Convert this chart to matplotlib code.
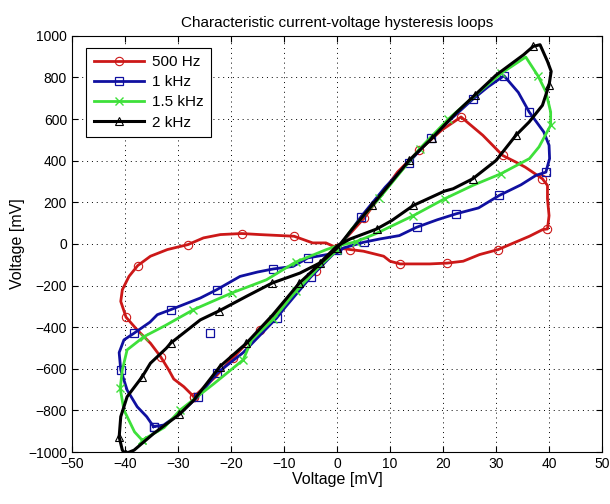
import matplotlib
matplotlib.use("Agg")
import matplotlib.pyplot as plt

# 500 Hz loop
red_x = [-27, -23, -19.6, -14.6, -8.5, -4, 0, 5.1, 11.4, 15.5, 19.7, 23.4, 27.5, 31.25, 33.75,
         35.5, 38.75, 39.7, 39.7, 40, 39.7, 38.8, 36.3, 32.6, 30.4, 26.9, 23.8, 20.8, 17.5, 11.9,
         10, 8.8, 5, 2.5, 0, -2.1, -4.6, -8.1, -14.6, -18, -22, -25.2, -28.1, -32, -35.2, -37.6,
         -39.25, -40.5, -40.8, -39.8, -37.7, -35.2, -33.3, -31.75, -30.8, -28.9, -27]
red_y = [-734, -640, -546, -413, -252, -130, -20, 124, 345, 450, 546, 610, 522, 425, 393,
         369, 313, 281, 217, 136, 72, 69, 37, -3, -27, -51, -83, -92, -96, -96,
         -83, -59, -35, -27, -19, 5, 5, 37, 45, 50, 45, 29, -3, -27, -59, -104,
         -156, -220, -276, -352, -413, -477, -541, -605, -649, -686, -734]

# 1 kHz loop
blue_x = [-34.6, -32.7, -29.6, -26.25, -22.7, -17.7, -11.4, -9.9, -5, 0, 4.5, 9.1, 13.5, 17.8,
          21.5, 25.6, 28.5, 31.5, 34.2, 36.25, 39, 40, 40.1, 39.4, 37.5, 34.7, 30.6, 26.7, 22.5,
          18.9, 15.0, 11.75, 8.1, 5, 1.25, 0, -5.5, -8.3, -12, -15, -18.3, -22.7, -25.8, -31.4,
          -33.9, -35.3, -38.3, -40.2, -41.1, -40.8, -39.6, -37.7, -35.9, -34.6]
blue_y = [-878, -870, -814, -734, -622, -522, -356, -308, -160, -30, 130, 273, 390, 511,
          600, 695, 755, 808, 728, 634, 538, 474, 410, 345, 329, 284, 233, 173, 145,
          116, 80, 40, 24, 8, -19, -43, -67, -108, -120, -135, -156, -220, -260, -316,
          -340, -376, -429, -461, -522, -605, -702, -782, -830, -878]
blue_outlier_x = [-24]
blue_outlier_y = [-426]

# 1.5 kHz loop
green_x = [-36.75, -32.6, -29.6, -23.3, -17.7, -16.1, -12, -7.8, -3, 0, 2.8, 8, 15.6, 21, 27.2,
           31, 35.6, 37.9, 39.4, 40.3, 40.3, 38.1, 36.3, 30.9, 25.6, 20.3, 14.4, 7.2, 3.5, 0,
           -2, -7.8, -13.3, -19.9, -27.1, -32.4, -36.4, -39.6, -40.5, -40.9, -40.2, -38.2, -36.75]
green_y = [-943, -882, -798, -673, -557, -461, -360, -228, -100, -30, 72, 220, 458, 600, 739,
           820, 898, 808, 731, 634, 570, 466, 410, 337, 281, 217, 136, 48, 10, -10,
           -27, -87, -172, -236, -316, -392, -445, -509, -605, -694, -798, -903, -943]

# 2 kHz loop
black_x = [-39.9, -38.3, -34.6, -29.75, -27, -22.1, -17.1, -12.1, -7.1, -3, 0, 2.5, 6.6, 13.6,
           18, 22.5, 26, 30, 35.2, 37, 38.3, 39.7, 40.4, 40, 38.75, 36.25, 33.75, 30, 25.6, 21.9,
           20.3, 14.4, 10.3, 7.5, 2.5, 0, -3.3, -7, -12.25, -17.1, -22.2, -25.8, -31.4, -32.2,
           -35.2, -36.75, -39.6, -40.8, -41.1, -40.5, -39.9]
black_y = [-1007, -991, -911, -819, -750, -589, -477, -340, -188, -90, -20, 60, 185, 401,
           510, 631, 715, 811, 909, 949, 957, 877, 829, 763, 666, 586, 522, 401, 313, 265,
           254, 185, 112, 72, 24, -10, -92, -140, -188, -252, -321, -365, -477, -501,
           -573, -638, -734, -830, -927, -991, -1007]

labels = ["500 Hz", "1 kHz", "1.5 kHz", "2 kHz"]

plt.rcParams["font.family"] = ["Liberation Sans", "DejaVu Sans"]

fig = plt.figure(figsize=(6.1, 5.04), dpi=100)
ax = fig.add_axes([0.118, 0.103, 0.869, 0.826])

ax.plot(red_x, red_y, color="#cc1818", lw=2.0, marker="o", ms=6, mfc="none",
        mew=0.8, markevery=0.08, label=labels[0])
ax.plot(blue_x, blue_y, color="#1010a0", lw=2.0, marker="s", ms=6, mfc="none",
        mew=0.9, markevery=0.075, label=labels[1])
ax.plot(blue_outlier_x, blue_outlier_y, ls="none", color="#1010a0", marker="s", ms=6,
        mfc="none", mew=0.9)
ax.plot(green_x, green_y, color="#3ee03a", lw=2.0, marker="x", ms=6,
        mew=1.0, markevery=0.085, label=labels[2])
ax.plot(black_x, black_y, color="black", lw=2.2, marker="^", ms=5.5, mfc="none",
        mew=0.8, markevery=0.085, label=labels[3])

ax.set_xlim(-50, 50)
ax.set_ylim(-1000, 1000)
ax.set_xticks(range(-50, 51, 10))
ax.set_yticks(range(-1000, 1001, 200))
ax.tick_params(direction="in", top=True, right=True, labelsize=10, length=4)
ax.grid(True, color="black", linestyle=(0, (1, 4)), linewidth=0.7)
for s in ax.spines.values():
    s.set_linewidth(0.8)

ax.set_title("Characteristic current-voltage hysteresis loops", fontsize=11)
ax.set_xlabel("Voltage [mV]", fontsize=11.5, labelpad=1)
ax.set_ylabel("Voltage [mV]", fontsize=11.5, labelpad=2)

leg = ax.legend(loc="upper left", fontsize=11, handlelength=3.3, fancybox=False,
                edgecolor="black", framealpha=1, borderpad=0.5, labelspacing=0.4,
                handletextpad=0.5, bbox_to_anchor=(0.012, 0.99))
leg.get_frame().set_linewidth(0.8)

fig.savefig("out.png", dpi=100)
